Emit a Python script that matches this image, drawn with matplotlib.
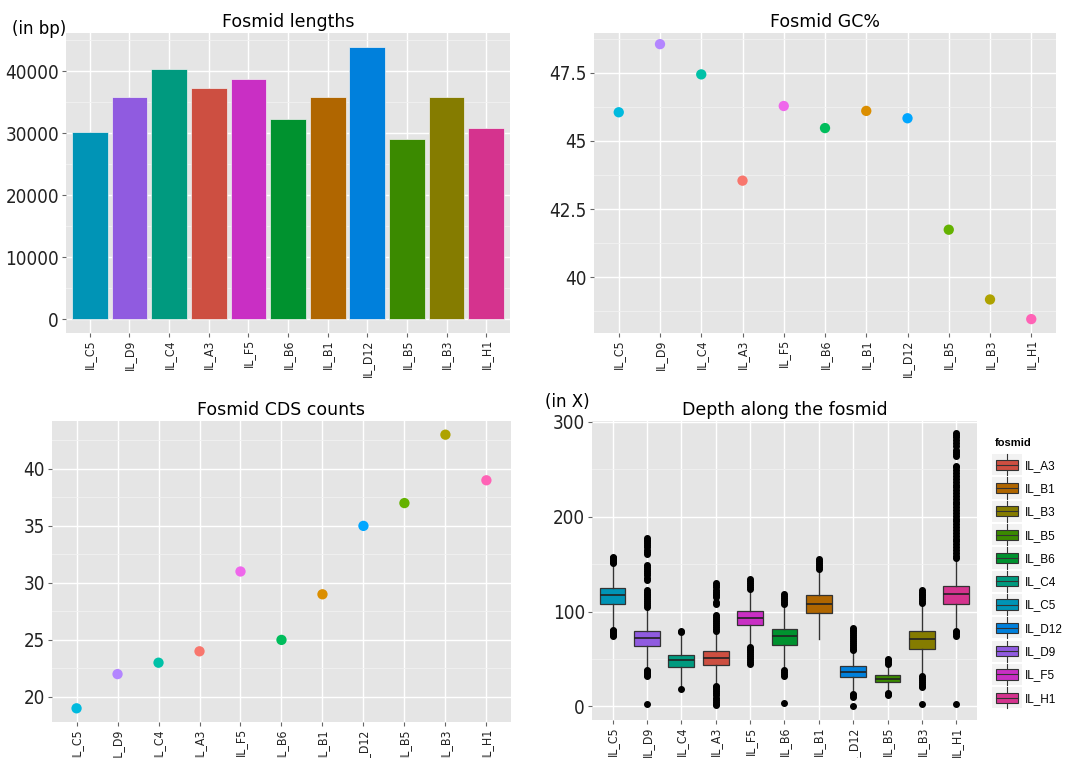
import matplotlib
matplotlib.use('Agg')

import matplotlib.pyplot as plt
from matplotlib import font_manager
from matplotlib.patches import Rectangle, Patch
from matplotlib.lines import Line2D
from matplotlib.legend_handler import HandlerBase
import numpy as np

# display order of the fosmids on every panel
fosmids = ['IL_C5', 'IL_D9', 'IL_C4', 'IL_A3', 'IL_F5', 'IL_B6', 'IL_B1', 'IL_D12', 'IL_B5', 'IL_B3', 'IL_H1']

lengths = [30300, 35900, 40400, 37300, 38850, 32350, 35800, 44000, 29150, 35800, 30850]
gcPercent = [46.05, 48.55, 47.44, 43.54, 46.28, 45.47, 46.1, 45.83, 41.74, 39.18, 38.46]
cdsCounts = [19, 22, 23, 24, 31, 25, 29, 35, 37, 43, 39]

# depth boxplot summaries (in X)
depthMedian = [117.5, 71.9, 48.4, 50.9, 93.7, 73.7, 108.4, 35.8, 28.8, 71.2, 118.2]
depthQ1 = [108.4, 63.9, 41.1, 43.5, 86.0, 64.6, 99.0, 30.9, 25.6, 61.0, 108.4]
depthQ3 = [125.3, 80.0, 54.4, 57.9, 101.0, 81.8, 117.2, 42.1, 33.0, 80.0, 127.4]
depthWhiskLo = [83, 40, 21, 22, 63.5, 39, 71, 14.5, 15, 33, 80]
depthWhiskHi = [150, 104, 74, 79.5, 123, 107.5, 144.5, 58.5, 44, 108.5, 155.5]
depthOutliers = [
    [74, 75, 76, 77, 78, 79, 80, 81, 151, 152, 153, 154, 155, 156, 157, 158],
    [2, 32, 33, 34, 35, 36, 37, 38, 105, 107, 109, 111, 113, 115, 117, 119, 121, 123,
     133, 135, 139, 141, 143, 145, 147, 149, 161, 163, 165, 168, 170, 172, 174, 176, 178],
    [18, 78, 79],
    [1, 3, 5, 7, 9, 12, 14, 16, 18, 20, 21, 80, 82, 84, 86, 88, 90, 92, 94, 96,
     108, 110, 115, 117, 119, 121, 123, 126, 128, 130],
    [45, 47, 49, 51, 53, 55, 57, 59, 61, 63, 124, 126, 128, 130, 132, 134],
    [4, 32, 34, 36, 38, 108, 110, 112, 114, 116, 118],
    [145, 147, 149, 151, 153, 155],
    [0, 10, 12, 13, 59, 61, 63, 65, 67, 69, 71, 73, 75, 77, 79, 81, 83],
    [12, 13, 14, 45, 47, 49, 50],
    [2, 20, 22, 24, 26, 28, 30, 32, 109, 111, 113, 115, 117, 119, 121, 123],
    [2, 74, 76, 78, 79, 156, 159, 162, 165, 168, 171, 174, 177, 180, 183, 186, 189, 192,
     195, 198, 201, 204, 207, 210, 213, 216, 219, 222, 225, 228, 231, 234, 237, 240,
     243, 246, 249, 252, 254, 264, 266, 268, 270, 275, 278, 281, 284, 286, 288],
]

fillColors = ['#0094B6', '#905BE0', '#009A7F', '#CD4F41', '#C92FC4', '#00922F',
              '#B06600', '#0080DC', '#3B8A00', '#857C00', '#D5338E']
pointColors = ['#00BADE', '#B385FF', '#00C1A7', '#F8766D', '#EF67EB', '#00BD5C',
               '#DB8E00', '#00A6FF', '#64B200', '#AEA200', '#FF63B6']

legendOrder = ['IL_A3', 'IL_B1', 'IL_B3', 'IL_B5', 'IL_B6', 'IL_C4', 'IL_C5', 'IL_D12', 'IL_D9', 'IL_F5', 'IL_H1']

BG = '#E5E5E5'
plt.rcParams['font.family'] = 'DejaVu Sans'
# narrow face for tick labels
tickY = font_manager.FontProperties(family='DejaVu Sans', stretch='condensed', size=13.5)
tickX = font_manager.FontProperties(family='DejaVu Sans', stretch='condensed', size=8.8)

fig = plt.figure(figsize=(10.67, 7.58), dpi=100)
axLen = fig.add_axes([0.0619, 0.5607, 0.4161, 0.3958])
axGC = fig.add_axes([0.5567, 0.5607, 0.4330, 0.3958])
axCDS = fig.add_axes([0.0487, 0.0475, 0.4302, 0.3971])
axDepth = fig.add_axes([0.5548, 0.0501, 0.3608, 0.3945])

x = np.arange(len(fosmids))


def ggStyle(ax, ylim, majors, minors, ylabels=None):
    ax.set_facecolor(BG)
    for s in ax.spines.values():
        s.set_visible(False)
    ax.set_xlim(-0.6, len(fosmids) - 0.4)
    ax.set_ylim(*ylim)
    ax.set_yticks(majors)
    if ylabels is not None:
        ax.set_yticklabels(ylabels)
    ax.set_yticks(minors, minor=True)
    ax.set_xticks(x)
    ax.set_xticklabels(fosmids, rotation=90)
    ax.tick_params(length=3, width=0.8, color='#666666', labelcolor='#222222', pad=2)
    ax.tick_params(axis='x', pad=1.5)
    ax.tick_params(which='minor', length=0)
    for lab in ax.get_yticklabels():
        lab.set_fontproperties(tickY)
    for lab in ax.get_xticklabels():
        lab.set_fontproperties(tickX)
    ax.grid(True, which='major', color='white', linewidth=1.0)
    ax.grid(True, which='minor', axis='y', color='#F2F2F2', linewidth=0.6)
    ax.set_axisbelow(True)


# lengths
ggStyle(axLen, (-2200, 46200), [0, 10000, 20000, 30000, 40000],
        [5000, 15000, 25000, 35000, 45000])
axLen.bar(x, lengths, width=0.9, color=fillColors, edgecolor='#F0F0F0', linewidth=0.5)
axLen.set_title('Fosmid lengths', fontsize=12.5, pad=4)
fig.text(0.011, 0.962, '(in bp)', fontsize=12, ha='left', va='center')

# GC%
ggStyle(axGC, (37.95, 48.96), [40, 42.5, 45, 47.5], [38.75, 41.25, 43.75, 46.25, 48.75],
        ['40', '42.5', '45', '47.5'])
axGC.scatter(x, gcPercent, s=55, c=pointColors, zorder=3, linewidths=0)
axGC.set_title('Fosmid GC%', fontsize=12.5, pad=4)

# CDS counts
ggStyle(axCDS, (17.8, 44.2), [20, 25, 30, 35, 40], [22.5, 27.5, 32.5, 37.5, 42.5])
axCDS.scatter(x, cdsCounts, s=55, c=pointColors, zorder=3, linewidths=0)
axCDS.set_title('Fosmid CDS counts', fontsize=12.5, pad=4)

# depth
stats = []
for i in range(len(fosmids)):
    stats.append({'med': depthMedian[i], 'q1': depthQ1[i], 'q3': depthQ3[i],
                  'whislo': depthWhiskLo[i], 'whishi': depthWhiskHi[i],
                  'fliers': depthOutliers[i]})
bp = axDepth.bxp(stats, positions=x, widths=0.75, patch_artist=True, showcaps=False,
                 boxprops=dict(edgecolor='#333333', linewidth=0.9),
                 medianprops=dict(color='#222222', linewidth=1.2),
                 whiskerprops=dict(color='#333333', linewidth=1.0),
                 flierprops=dict(marker='o', markersize=4, markerfacecolor='black',
                                 markeredgecolor='black'))
for patch, col in zip(bp['boxes'], fillColors):
    patch.set_facecolor(col)
ggStyle(axDepth, (-14.4, 301), [0, 100, 200, 300], [50, 150, 250])
axDepth.set_title('Depth along the fosmid', fontsize=12.5, pad=4)
fig.text(0.511, 0.470, '(in X)', fontsize=12, ha='left', va='center')


class BoxKey(HandlerBase):
    def create_artists(self, legend, orig, xd, yd, w, h, fontsize, trans):
        x0, y0 = -xd, -yd
        bg = Rectangle((x0 - 2, y0 - 3), w + 4, h + 6, facecolor='#F2F2F2',
                       edgecolor='none', transform=trans)
        whisk = Line2D([x0 + w / 2] * 2, [y0 - 3, y0 + h + 3], color='#333333',
                       lw=0.8, transform=trans)
        box = Rectangle((x0 + 0.05 * w, y0 + 0.1 * h), 0.9 * w, 0.8 * h,
                        facecolor=orig.get_facecolor(), edgecolor='#333333',
                        lw=0.8, transform=trans)
        med = Line2D([x0 + 0.05 * w, x0 + 0.95 * w], [y0 + h / 2] * 2, color='#333333',
                     lw=0.8, transform=trans)
        return [bg, whisk, box, med]


handles = [Patch(facecolor=fillColors[fosmids.index(f)]) for f in legendOrder]
leg = fig.legend(handles, legendOrder, loc='upper left', bbox_to_anchor=(0.926, 0.431),
                 frameon=False, prop={'family': 'Liberation Sans', 'size': 8.5},
                 title='fosmid',
                 title_fontproperties={'family': 'Liberation Sans', 'weight': 'bold', 'size': 8},
                 handler_map={Patch: BoxKey()}, handlelength=2.0, handleheight=1.3,
                 labelspacing=0.84, handletextpad=0.5, borderaxespad=0.2)
leg._legend_box.align = 'left'

fig.savefig('out.png', dpi=100)
